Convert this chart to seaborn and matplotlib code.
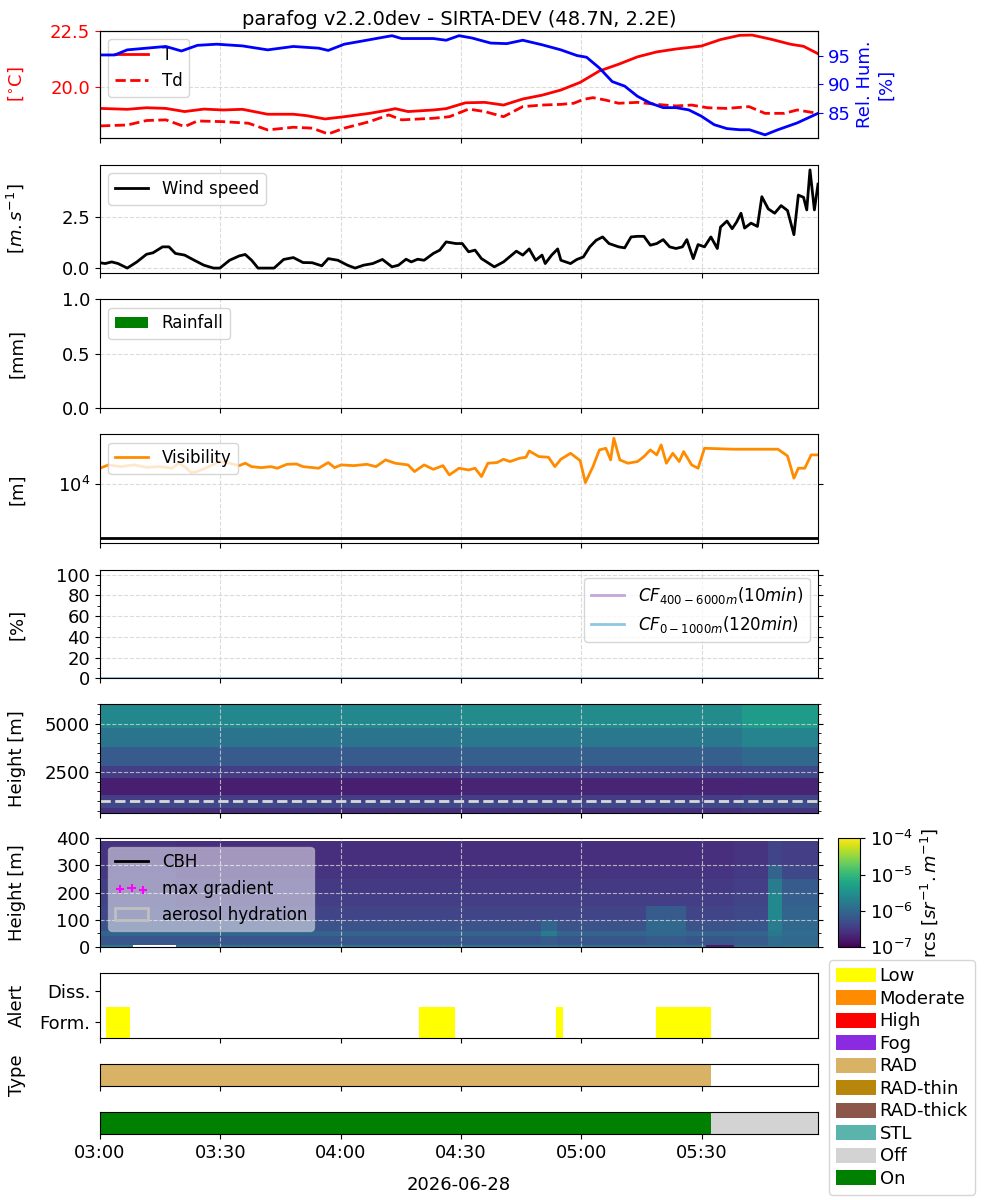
import matplotlib

matplotlib.use("Agg")

import matplotlib.dates as mdates
import matplotlib.pyplot as plt
import numpy as np
import pandas as pd
import seaborn as sns
from matplotlib.colors import LogNorm
from matplotlib.lines import Line2D
from matplotlib.patches import Patch
from matplotlib.ticker import MultipleLocator, NullLocator, FixedLocator, LogFormatterSciNotation


START = pd.Timestamp("2026-06-28 03:00")
END = pd.Timestamp("2026-06-28 05:59")
TITLE = "parafog v2.2.0dev - SIRTA-DEV (48.7N, 2.2E)"

# --- surface met (minutes after 03:00) ---
temp_min = [0, 6.8, 11.6, 16.4, 21.1, 25.9, 30.7, 35.5, 41.8, 48.2, 51.4, 56.1, 60.9, 67.2, 72.0,
            73.6, 76.8, 83.1, 86.3, 91.1, 95.9, 100.6, 105.4, 110.2, 114.9, 119.7, 124.5, 129.3,
            134.0, 138.8, 143.6, 149.9, 154.7, 159.5, 162.6, 167.4, 172.2, 175.4, 179.0]
temp_c = [19.05, 19.01, 19.08, 19.05, 18.91, 19.02, 18.98, 19.01, 18.79, 18.79, 18.73, 18.58, 18.68,
          18.83, 18.98, 19.04, 18.91, 18.98, 19.04, 19.30, 19.32, 19.20, 19.47, 19.64, 19.87, 20.21,
          20.72, 21.02, 21.35, 21.57, 21.70, 21.83, 22.12, 22.31, 22.32, 22.13, 21.91, 21.82, 21.49]

dew_min = [0, 6.8, 11.6, 16.4, 21.1, 24.3, 30.7, 37.0, 41.8, 48.2, 52.9, 56.9, 60.9, 67.2, 72.0,
           75.2, 83.1, 87.1, 91.9, 95.9, 100.6, 105.4, 110.2, 114.9, 118.1, 120.5, 122.9, 126.1,
           129.3, 134.0, 138.8, 143.6, 147.5, 151.5, 156.3, 161.8, 165.8, 170.6, 173.8, 179.0]
dew_c = [18.27, 18.31, 18.51, 18.54, 18.24, 18.49, 18.46, 18.39, 18.09, 18.21, 18.17, 17.91, 18.17,
         18.46, 18.76, 18.54, 18.61, 18.68, 19.02, 18.91, 18.68, 19.13, 19.20, 19.23, 19.28, 19.45,
         19.53, 19.42, 19.28, 19.32, 19.23, 19.16, 19.20, 19.08, 19.05, 19.13, 18.83, 18.83, 18.98, 18.83]

rh_min = [0, 3.7, 6.8, 11.6, 16.4, 20.3, 24.3, 29.1, 35.5, 41.8, 48.2, 54.5, 56.9, 60.9, 65.7, 70.4,
          72.8, 75.2, 83.1, 86.3, 89.5, 92.7, 97.4, 101.4, 105.4, 110.2, 114.9, 118.9, 121.3, 124.5,
          127.7, 130.8, 134.0, 137.2, 140.4, 143.6, 146.8, 149.9, 153.1, 156.3, 159.5, 161.9, 165.8,
          169.0, 173.8, 179.0]
rh_pct = [95.2, 95.2, 96.1, 96.4, 96.7, 95.9, 96.9, 97.1, 96.8, 96.1, 96.7, 96.4, 96.0, 97.1, 97.7,
          98.3, 98.6, 98.1, 98.1, 97.8, 98.6, 98.2, 97.3, 97.2, 97.8, 97.0, 96.1, 95.1, 94.8, 92.9,
          90.5, 89.7, 87.9, 86.7, 85.9, 85.9, 85.5, 84.4, 82.9, 82.2, 82.0, 82.0, 81.1, 82.0, 83.2, 84.9]

wind_min = [0, 1.3, 2.9, 4.5, 6.8, 9.2, 11.6, 13.2, 15.6, 17.2, 18.8, 21.1, 23.5, 25.9, 28.3, 29.9,
            32.3, 34.7, 36.2, 37.8, 39.4, 43.4, 45.8, 48.2, 50.6, 52.9, 55.3, 56.9, 59.3, 61.7, 63.6,
            65.7, 68.0, 70.4, 72.8, 74.4, 76.3, 77.6, 79.2, 80.8, 83.1, 84.7, 86.3, 88.7, 90.3, 91.9,
            93.5, 95.1, 98.3, 100.6, 103.8, 105.4, 107.0, 108.6, 110.2, 111.0, 112.6, 114.1, 114.9,
            117.3, 118.9, 120.5, 122.1, 123.7, 125.3, 126.9, 129.3, 130.8, 132.4, 134.0, 135.6,
            137.2, 138.8, 140.4, 142.0, 143.6, 145.2, 146.3, 147.9, 149.1, 150.7, 152.3, 153.9,
            154.7, 156.3, 157.6, 158.7, 159.8, 160.7, 162.3, 163.9, 165.0, 166.6, 168.2, 169.8,
            171.4, 173.0, 174.1, 175.4, 176.2, 177.0, 178.1, 179.0]
wind_ms = [0.26, 0.22, 0.30, 0.22, 0.0, 0.30, 0.67, 0.74, 1.03, 1.03, 0.71, 0.63, 0.38, 0.14, 0.0, 0.0,
           0.38, 0.59, 0.66, 0.38, 0.0, 0.0, 0.42, 0.51, 0.27, 0.26, 0.11, 0.46, 0.38, 0.14, 0.0,
           0.14, 0.22, 0.42, 0.06, 0.14, 0.43, 0.30, 0.43, 0.38, 0.71, 0.87, 1.27, 1.19, 1.19, 0.79,
           0.87, 0.46, 0.06, 0.30, 0.82, 0.63, 0.93, 0.38, 0.63, 0.22, 0.63, 0.93, 0.38,
           0.22, 0.42, 0.54, 1.03, 1.35, 1.51, 1.19, 1.03, 0.98, 1.51, 1.54, 1.54,
           1.11, 1.19, 1.38, 1.03, 0.95, 1.03, 1.38, 0.46, 1.14, 1.03, 1.51, 0.95,
           1.99, 2.28, 1.91, 2.23, 2.66, 1.94, 2.18, 2.02, 3.46, 2.87, 2.66, 3.03,
           2.79, 1.62, 3.54, 3.43, 2.82, 4.76, 2.82, 4.07]

rain_min = [0, 30, 60, 90, 120, 150]
rain_mm = [0.0, 0.0, 0.0, 0.0, 0.0, 0.0]

vis_min = [0, 2.1, 5.2, 8.4, 11.6, 14.8, 18.0, 19.6, 21.1, 22.7, 24.3, 26.7, 29.9, 32.3, 34.7, 36.2,
           37.8, 40.2, 42.6, 44.2, 46.6, 49.0, 50.6, 54.5, 56.9, 58.5, 60.1, 63.3, 66.5, 68.8, 71.2,
           73.6, 76.8, 78.4, 80.8, 83.1, 85.5, 87.1, 89.5, 91.9, 93.5, 95.1, 96.7, 99.0, 100.6,
           102.2, 104.6, 106.2, 107.0, 109.4, 111.8, 113.4, 114.9, 117.3, 119.7, 121.0, 122.9,
           124.5, 126.1, 127.3, 128.1, 129.6, 131.6, 134.0, 135.6, 137.2, 138.8, 139.9, 141.2,
           142.8, 144.4, 145.5, 147.5, 149.1, 150.7, 157.9, 169.0, 171.4, 173.0, 174.1, 175.7,
           177.3, 179.0]
vis_m = [19600, 22600, 21000, 22600, 20400, 21000, 19600, 24300, 21000, 16300, 17000, 20400, 26100,
         24300, 21900, 24300, 21000, 20100, 21000, 19600, 23200, 23500, 21000, 19600, 25000, 20100,
         22600, 21900, 23200, 21000, 28000, 24300, 22600, 17000, 22600, 18700, 21900, 14700, 19600,
         18200, 19600, 13700, 24300, 25000, 28800, 26100, 30100, 31400, 41200, 32300, 31400, 21000,
         28800, 37200, 27200, 10600, 21000, 43000, 46100, 28000, 70800, 28000, 24300, 26100, 32300,
         43000, 34700, 53200, 24300, 37200, 26100, 40000, 22600, 19600, 46100, 44300, 44300, 33200,
         12800, 19600, 19600, 34700, 34700]
fog_threshold_m = 1000

cf_min = [0, 60, 120, 179]
cf_high_pct = [0, 0, 0, 0]
cf_low_pct = [0, 0, 0, 0]

# --- ceilometer rcs, log10(sr-1 m-1) ---
hi_time_edges = [0, 90, 160, 180]
hi_height_edges = [400, 650, 1000, 1300, 2200, 2800, 3800, 4800, 6000]
hi_log_rcs = [
    [-6.60, -6.60, -6.55],
    [-6.35, -6.35, -6.30],
    [-6.45, -6.45, -6.40],
    [-6.75, -6.70, -6.70],
    [-6.45, -6.40, -6.35],
    [-6.15, -6.10, -6.00],
    [-5.85, -5.80, -5.65],
    [-5.60, -5.55, -5.35],
]
overlap_height_m = 1000

low_time_edges = [0, 8.3, 19, 110, 114, 136, 146, 151, 158, 166.5, 170, 180]
low_height_edges = [0, 8, 40, 60, 100, 150, 200, 250, 300, 390]
low_log_rcs = [
    [-5.80, np.nan, -5.85, -5.85, -5.90, -5.90, -5.90, -6.80, -5.95, -5.90, -5.85],
    [-6.20, -6.20, -6.20, -6.15, -6.20, -6.15, -6.20, -6.20, -6.15, -5.95, -6.00],
    [-6.05, -6.05, -6.05, -5.75, -6.05, -6.00, -6.05, -6.05, -6.05, -5.80, -5.95],
    [-6.25, -6.25, -6.25, -6.05, -6.25, -6.00, -6.25, -6.25, -6.20, -5.75, -6.00],
    [-6.35, -6.35, -6.40, -6.40, -6.40, -6.15, -6.40, -6.40, -6.35, -5.60, -6.05],
    [-6.40, -6.40, -6.45, -6.45, -6.45, -6.45, -6.45, -6.45, -6.40, -5.60, -6.10],
    [-6.45, -6.45, -6.50, -6.50, -6.50, -6.50, -6.50, -6.50, -6.45, -5.75, -6.15],
    [-6.50, -6.50, -6.55, -6.55, -6.55, -6.55, -6.55, -6.55, -6.50, -6.05, -6.35],
    [-6.55, -6.55, -6.60, -6.60, -6.60, -6.60, -6.60, -6.60, -6.55, -6.40, -6.45],
]
rcs_ticks = [1e-7, 1e-6, 1e-5, 1e-4]

# --- alerts / fog type / status ---
alert_start_min = [1.5, 79.5, 113.6, 138.5]
alert_end_min = [7.5, 88.5, 115.5, 152.4]
type_start_min = [0]
type_end_min = [152.4]
status_labels = ["On", "Off"]
status_start_min = [0, 152.4]
status_end_min = [152.4, 179]

legend_labels = ["Low", "Moderate", "High", "Fog", "RAD", "RAD-thin", "RAD-thick", "STL", "Off", "On"]
legend_colors = ["#ffff00", "#ff8c00", "#ff0000", "#8a2be2", "#d8b365", "#b8860b", "#8c564b",
                 "#5ab4ac", "#d3d3d3", "#008000"]
COLORS = dict(zip(legend_labels, legend_colors))

YLABEL_X = -0.103


def _t(minutes):
    return START + pd.to_timedelta(np.asarray(minutes, dtype=float), unit="min")


def _num(minutes):
    return mdates.date2num(_t(minutes).to_pydatetime())


def _style(ax, grid=True, label_bottom=False):
    ax.set_xlim(START, END)
    ax.xaxis.set_major_locator(mdates.MinuteLocator(byminute=[0, 30]))
    ax.xaxis.set_major_formatter(mdates.DateFormatter("%H:%M"))
    ax.tick_params(labelbottom=label_bottom, labelsize=13)
    if grid:
        ax.grid(True, linestyle="--", color="lightgray", linewidth=0.8, alpha=0.8)
    ax.set_xlabel("")
    ax.yaxis.set_label_coords(YLABEL_X, 0.5)


def _spans(ax, starts, ends, y0, height, color):
    s = _num(starts)
    e = _num(ends)
    ax.broken_barh(list(zip(s, e - s)), (y0, height), facecolors=color)


def main():
    plt.rcParams["font.family"] = ["DejaVu Sans"]
    plt.rcParams["font.size"] = 13
    fig = plt.figure(figsize=(10, 12), dpi=100)

    L, W = 0.1, 0.718
    ax_t = fig.add_axes([L, 0.8848, W, 0.0897])
    ax_w = fig.add_axes([L, 0.7725, W, 0.0900])
    ax_r = fig.add_axes([L, 0.6598, W, 0.0908])
    ax_v = fig.add_axes([L, 0.5473, W, 0.0908])
    ax_cf = fig.add_axes([L, 0.4348, W, 0.0905])
    ax_hi = fig.add_axes([L, 0.3228, W, 0.0903])
    ax_lo = fig.add_axes([L, 0.2108, W, 0.0906])
    cax = fig.add_axes([0.838, 0.2108, 0.022, 0.0906])
    ax_al = fig.add_axes([L, 0.1348, W, 0.0542])
    ax_ty = fig.add_axes([L, 0.0948, W, 0.0183])
    ax_on = fig.add_axes([L, 0.0550, W, 0.0181])

    # temperature / dew point / RH
    sns.lineplot(x=_t(temp_min), y=temp_c, ax=ax_t, color="red", linewidth=2, label="T", sort=False)
    sns.lineplot(x=_t(dew_min), y=dew_c, ax=ax_t, color="red", linewidth=2, linestyle="--",
                 label="Td", sort=False)
    ax_t.set_ylim(17.72, 22.52)
    ax_t.yaxis.set_major_locator(MultipleLocator(2.5))
    ax_t.set_ylabel("[$^{\\circ}$C]", color="red")
    ax_t.tick_params(axis="y", colors="red")
    ax_t.legend(loc="upper left", fontsize=12)
    ax_t.set_title(TITLE, fontsize=14, pad=4)
    _style(ax_t)
    ax_rh = ax_t.twinx()
    sns.lineplot(x=_t(rh_min), y=rh_pct, ax=ax_rh, color="blue", linewidth=2, sort=False)
    ax_rh.set_ylim(80.5, 99.5)
    ax_rh.yaxis.set_major_locator(MultipleLocator(5))
    ax_rh.set_ylabel("Rel. Hum.\n[%]", color="blue")
    ax_rh.tick_params(axis="y", colors="blue", labelsize=13)
    ax_rh.set_xlim(START, END)
    ax_rh.tick_params(labelbottom=False)

    # wind
    sns.lineplot(x=_t(wind_min), y=wind_ms, ax=ax_w, color="black", linewidth=2,
                 label="Wind speed", sort=False)
    ax_w.yaxis.set_major_locator(MultipleLocator(2.5))
    ax_w.set_ylabel("[$m.s^{-1}$]")
    ax_w.legend(loc="upper left", fontsize=12)
    _style(ax_w)

    # rainfall
    ax_r.bar(_t(rain_min), rain_mm, width=1 / 1440, color="green", label="Rainfall")
    ax_r.set_ylim(0, 1)
    ax_r.yaxis.set_major_locator(MultipleLocator(0.5))
    ax_r.set_ylabel("[mm]")
    ax_r.legend(loc="upper left", fontsize=12)
    _style(ax_r)

    # visibility
    sns.lineplot(x=_t(vis_min), y=vis_m, ax=ax_v, color="darkorange", linewidth=2,
                 label="Visibility", sort=False)
    ax_v.axhline(fog_threshold_m, color="black", linewidth=2)
    ax_v.set_yscale("log")
    ax_v.set_ylim(787, 84000)
    ax_v.yaxis.set_major_locator(FixedLocator([1e4]))
    ax_v.yaxis.set_minor_locator(NullLocator())
    ax_v.tick_params(axis="y", right=True)
    ax_v.set_ylabel("[m]")
    ax_v.legend(loc="upper left", fontsize=12)
    _style(ax_v)

    # cloud fraction
    sns.lineplot(x=_t(cf_min), y=cf_high_pct, ax=ax_cf, color="#c3a6d6", linewidth=2,
                 label="$CF_{400-6000m} (10min)$", sort=False)
    sns.lineplot(x=_t(cf_min), y=cf_low_pct, ax=ax_cf, color="#8ec6e0", linewidth=2,
                 label="$CF_{0-1000m} (120min)$", sort=False)
    ax_cf.set_ylim(0, 105)
    ax_cf.yaxis.set_major_locator(MultipleLocator(20))
    ax_cf.yaxis.set_minor_locator(MultipleLocator(10))
    ax_cf.tick_params(axis="y", which="both", right=True)
    ax_cf.set_ylabel("[%]")
    ax_cf.legend(loc="upper right", fontsize=12)
    _style(ax_cf)

    # ceilometer, full range
    norm = LogNorm(vmin=1e-7, vmax=1e-4)
    ax_hi.pcolormesh(_t(hi_time_edges), hi_height_edges, 10 ** np.array(hi_log_rcs),
                     cmap="viridis", norm=norm, shading="flat")
    ax_hi.axhline(overlap_height_m, color="#d9d9d9", linestyle="--", linewidth=2)
    ax_hi.set_ylim(400, 6000)
    ax_hi.yaxis.set_major_locator(MultipleLocator(2500))
    ax_hi.yaxis.set_minor_locator(MultipleLocator(500))
    ax_hi.tick_params(axis="y", which="both", right=True)
    ax_hi.set_ylabel("Height [m]")
    _style(ax_hi)

    # ceilometer, low levels
    low = np.ma.masked_invalid(10 ** np.array(low_log_rcs))
    mesh = ax_lo.pcolormesh(_t(low_time_edges), low_height_edges, low, cmap="viridis",
                            norm=norm, shading="flat")
    ax_lo.scatter([], [], marker="+", color="magenta", label="max gradient")
    ax_lo.set_ylim(0, 400)
    ax_lo.yaxis.set_major_locator(MultipleLocator(100))
    ax_lo.yaxis.set_minor_locator(MultipleLocator(50))
    ax_lo.tick_params(axis="y", which="both", right=True)
    ax_lo.set_ylabel("Height [m]")
    handles = [
        Line2D([], [], color="black", linewidth=2, label="CBH"),
        ax_lo.collections[-1],
        Patch(facecolor="none", edgecolor="silver", linewidth=2, label="aerosol hydration"),
    ]
    ax_lo.legend(handles=handles, loc="upper left", fontsize=12, framealpha=0.5, scatterpoints=3)
    _style(ax_lo)
    cbar = fig.colorbar(mesh, cax=cax)
    cbar.set_label("rcs [$sr^{-1}.m^{-1}$]")
    cbar.ax.yaxis.set_major_locator(FixedLocator(rcs_ticks))
    cbar.ax.yaxis.set_major_formatter(LogFormatterSciNotation())
    cbar.ax.minorticks_off()
    cbar.ax.tick_params(labelsize=13)

    # alerts
    _spans(ax_al, alert_start_min, alert_end_min, -0.5, 1.0, COLORS["Low"])
    ax_al.set_ylim(-0.5, 1.55)
    ax_al.set_yticks([0, 1], ["Form.", "Diss."])
    ax_al.set_ylabel("Alert")
    _style(ax_al, grid=False)

    # fog type
    _spans(ax_ty, type_start_min, type_end_min, 0, 1, COLORS["RAD"])
    ax_ty.set_ylim(0, 1)
    ax_ty.set_yticks([])
    ax_ty.set_ylabel("Type")
    _style(ax_ty, grid=False)

    # on / off
    for lab, s, e in zip(status_labels, status_start_min, status_end_min):
        _spans(ax_on, [s], [e], 0, 1, COLORS[lab])
    ax_on.set_ylim(0, 1)
    ax_on.set_yticks([])
    _style(ax_on, grid=False, label_bottom=True)
    ax_on.set_xlabel(START.strftime("%Y-%m-%d"), labelpad=10)

    patches = [Patch(facecolor=c, label=lab) for lab, c in zip(legend_labels, legend_colors)]
    fig.legend(handles=patches, loc="upper left", bbox_to_anchor=(0.829, 0.2), fontsize=13,
               handlelength=2.2, handleheight=0.9, labelspacing=0.25, handletextpad=0.2,
               borderpad=0.4, borderaxespad=0)

    fig.savefig("out.png", dpi=100)
    plt.close(fig)


if __name__ == "__main__":
    main()
